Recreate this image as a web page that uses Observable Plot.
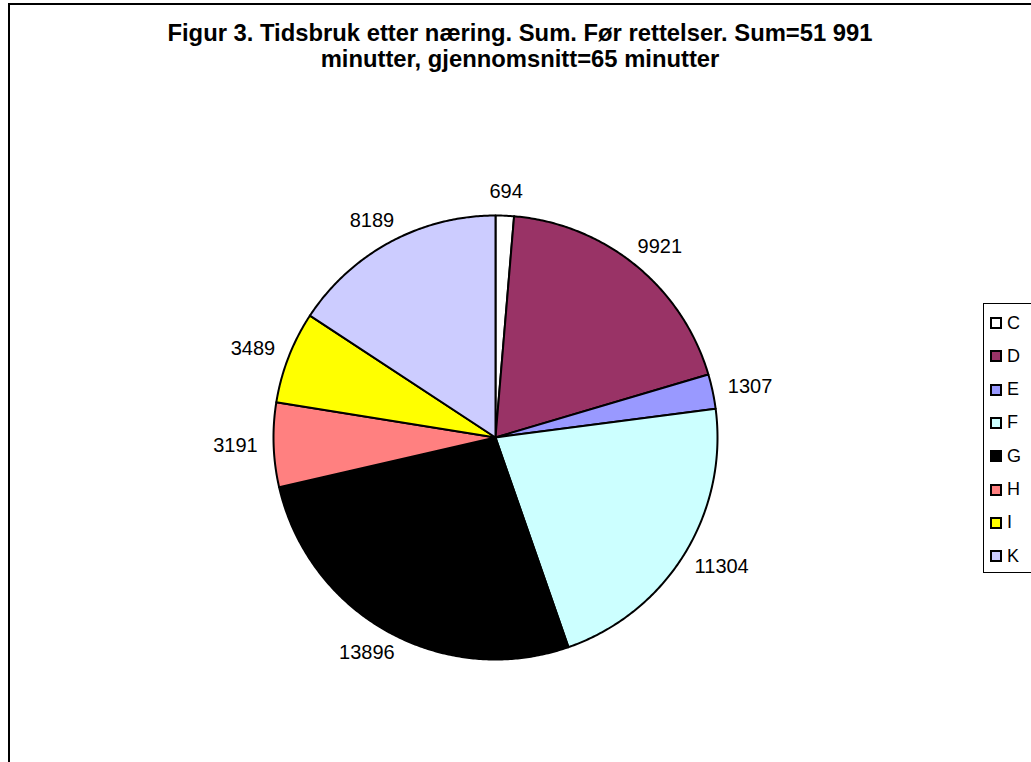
<!DOCTYPE html>
<html>
<head>
<meta charset="utf-8">
<script src="https://cdn.jsdelivr.net/npm/d3@7"></script>
<script src="https://cdn.jsdelivr.net/npm/@observablehq/plot@0.6"></script>
<style>
  html, body { margin: 0; padding: 0; background: #fff; }
  body { width: 1031px; height: 762px; position: relative; overflow: hidden; font-family: "Liberation Sans", Arial, sans-serif; }
  #frame { position: absolute; left: 8px; top: 3px; width: 1100px; height: 900px; border: 2px solid #000; box-sizing: border-box; }
  #title { position: absolute; left: 0; width: 1040px; top: 20px; text-align: center; font-weight: bold; font-size: 23.8px; line-height: 26px; color: #000; }
  #chart { position: absolute; left: 0; top: 0; }
  #legend { position: absolute; left: 983px; top: 303px; width: 100px; height: 270px; border: 1px solid #000; background: #fff; box-sizing: border-box; }
  .item { position: absolute; left: 6px; height: 20px; display: flex; align-items: center; font-size: 18px; color: #000; }
  .sw { width: 8px; height: 8px; border: 2px solid #000; margin-right: 5px; }
</style>
</head>
<body>
<div id="frame"></div>
<div id="chart"></div>
<div id="title">Figur 3. Tidsbruk etter næring. Sum. Før rettelser. Sum=51 991<br>minutter, gjennomsnitt=65 minutter</div>
<div id="legend"></div>
<script>
const categories = ["C", "D", "E", "F", "G", "H", "I", "K"];
const values = [694, 9921, 1307, 11304, 13896, 3191, 3489, 8189];
const colors = ["#FFFFFF", "#993366", "#9999FF", "#CCFFFF", "#000000", "#FF8080", "#FFFF00", "#CCCCFF"];

const R = 222;        // pie radius (px units)
const LR = 238;       // label box distance from centre
const FS = 20;        // label font size
const CX = 495, CY = 437, W = 1031, H = 762;

const arcs = d3.pie().sort(null).value(d => d.value)(categories.map((c, i) => ({cat: c, value: values[i]})));

// polygon points per slice
const pts = [];
for (const a of arcs) {
  const cat = a.data.cat;
  pts.push({cat, x: 0, y: 0});
  const n = Math.max(2, Math.ceil((a.endAngle - a.startAngle) / (Math.PI / 360)));
  for (let k = 0; k <= n; k++) {
    const t = a.startAngle + (a.endAngle - a.startAngle) * k / n;
    pts.push({cat, x: R * Math.sin(t), y: R * Math.cos(t)});
  }
  pts.push({cat, x: 0, y: 0});
}
const labels = arcs.map(a => {
  const m = (a.startAngle + a.endAngle) / 2;
  const s = String(a.data.value);
  const w = s.length * 0.556 * FS, h = 16;
  return {
    label: s,
    x: (LR + w / 2) * Math.sin(m),
    y: (LR + h / 2) * Math.cos(m)
  };
});

const chart = Plot.plot({
  width: W, height: H,
  margin: 0,
  style: {background: "transparent", overflow: "visible"},
  x: {domain: [-CX, W - CX], range: [0, W], axis: null},
  y: {domain: [CY, CY - H], range: [0, H], axis: null},
  color: {domain: categories, range: colors},
  marks: [
    Plot.line(pts, {x: "x", y: "y", z: "cat", fill: "cat", stroke: "#000", strokeWidth: 2, strokeLinejoin: "round", curve: "linear"}),
    Plot.text(labels, {x: "x", y: "y", text: "label", fontSize: FS, fill: "#000", fontFamily: "Liberation Sans, Arial, sans-serif", textAnchor: "middle", lineAnchor: "middle"})
  ]
});
document.getElementById("chart").appendChild(chart);

const lg = document.getElementById("legend");
categories.forEach((c, i) => {
  const it = document.createElement("div");
  it.className = "item";
  it.style.top = (9 + i * 33.3) + "px";
  it.innerHTML = `<span class="sw" style="background:${colors[i]}"></span><span>${c}</span>`;
  lg.appendChild(it);
});
</script>
</body>
</html>
